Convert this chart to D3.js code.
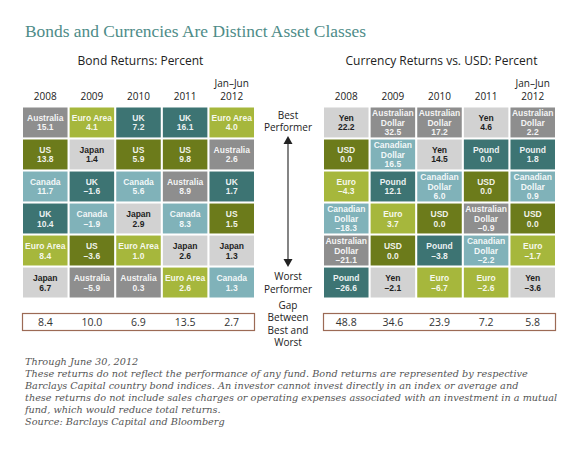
<!DOCTYPE html>
<html><head><meta charset="utf-8">
<script src="https://cdn.jsdelivr.net/npm/d3@7"></script>
<style>
html,body{margin:0;padding:0;background:#fff;}
svg{display:block;}
</style></head>
<body>
<svg id="c" width="580" height="455"></svg>
<script>
const years = ["2008","2009","2010","2011","Jan–Jun|2012"];

const bondNames = [
  ["Australia","US","Canada","UK","Euro Area","Japan"],
  ["Euro Area","Japan","UK","Canada","US","Australia"],
  ["UK","US","Canada","Japan","Euro Area","Australia"],
  ["UK","US","Australia","Canada","Japan","Euro Area"],
  ["Euro Area","Australia","UK","US","Japan","Canada"]
];
const bondValues = [
  [15.1,13.8,11.7,10.4,8.4,6.7],
  [4.1,1.4,-1.6,-1.9,-3.6,-5.9],
  [7.2,5.9,5.6,2.9,1.0,0.3],
  [16.1,9.8,8.9,8.3,2.6,2.6],
  [4.0,2.6,1.7,1.5,1.3,1.3]
];
const bondGap = [8.4,10.0,6.9,13.5,2.7];

const curNames = [
  ["Yen","USD","Euro","Canadian Dollar","Australian Dollar","Pound"],
  ["Australian Dollar","Canadian Dollar","Pound","Euro","USD","Yen"],
  ["Australian Dollar","Yen","Canadian Dollar","USD","Pound","Euro"],
  ["Yen","Pound","USD","Australian Dollar","Canadian Dollar","Euro"],
  ["Australian Dollar","Pound","Canadian Dollar","USD","Euro","Yen"]
];
const curValues = [
  [22.2,0.0,-4.3,-18.3,-21.1,-26.6],
  [32.5,16.5,12.1,3.7,0.0,-2.1],
  [17.2,14.5,6.0,0.0,-3.8,-6.7],
  [4.6,0.0,0.0,-0.9,-2.2,-2.6],
  [2.2,1.8,0.9,0.0,-1.7,-3.6]
];
const curGap = [48.8,34.6,23.9,7.2,5.8];

const groupKey = {
  "Australia":"aus","Australian Dollar":"aus",
  "Japan":"jpn","Yen":"jpn",
  "Euro Area":"eur","Euro":"eur",
  "US":"usa","USD":"usa",
  "UK":"gbr","Pound":"gbr",
  "Canada":"can","Canadian Dollar":"can"
};
const colorScale = d3.scaleOrdinal()
  .domain(["aus","jpn","eur","usa","gbr","can"])
  .range(["#8e8e8e","#d2d2d2","#a6b73c","#6c7b1b","#3d7473","#80b2b9"]);

const svg = d3.select("#c");
const fmt = v => (v < 0 ? "\u2013" + Math.abs(v).toFixed(1) : v.toFixed(1));

const SANS = "'Open Sans', 'Noto Sans', sans-serif";
const CELL = "'Liberation Sans', Arial, sans-serif";
const SERIF = "'DejaVu Serif', Georgia, serif";

// Title
svg.append("text").attr("x",25).attr("y",37)
  .attr("font-family","'Liberation Serif', Georgia, serif")
  .attr("font-size",17.4).attr("fill","#4e8c88")
  .text("Bonds and Currencies Are Distinct Asset Classes");

const rows = d3.range(6);
const yScale = d3.scaleBand().domain(rows).range([107.5,297.5]).paddingInner(0.065);

function panel(x0, x1, title, names, values, gaps){
  const xScale = d3.scaleBand().domain(d3.range(5)).range([x0,x1]).paddingInner(0.045);
  const g = svg.append("g");
  g.append("text").attr("x",(x0+x1)/2 + 2).attr("y",65)
    .attr("text-anchor","middle").attr("font-family",SANS)
    .attr("font-size",12).attr("fill","#222").text(title);
  // headers
  years.forEach((yr,i)=>{
    const parts = yr.split("|");
    const cx = xScale(i)+xScale.bandwidth()/2;
    parts.forEach((p,j)=>{
      g.append("text").attr("x",cx).attr("y",99.5 - (parts.length-1-j)*13)
        .attr("text-anchor","middle").attr("font-family",SANS)
        .attr("font-size",10).attr("fill","#222").text(p);
    });
  });
  // cells
  const cells = [];
  names.forEach((col,i)=>col.forEach((n,r)=>cells.push({i,r,n,v:values[i][r]})));
  const cg = g.selectAll("g.cell").data(cells).join("g").attr("class","cell");
  cg.append("rect")
    .attr("x",d=>xScale(d.i)).attr("y",d=>yScale(d.r))
    .attr("width",xScale.bandwidth()).attr("height",yScale.bandwidth())
    .attr("fill",d=>colorScale(groupKey[d.n]));
  cg.each(function(d){
    const labelLines = d.n.indexOf("Dollar")>=0 ? d.n.split(" ") : [d.n];
    const all = labelLines.concat([fmt(d.v)]);
    const lh = 9.6;
    const cy = yScale(d.r)+yScale.bandwidth()/2;
    const top = cy - (all.length-1)*lh/2;
    const dark = groupKey[d.n]==="jpn";
    all.forEach((t,k)=>{
      d3.select(this).append("text")
        .attr("x",xScale(d.i)+xScale.bandwidth()/2)
        .attr("y",top + k*lh + 3.2)
        .attr("text-anchor","middle").attr("font-family",CELL)
        .attr("font-size",8.5).attr("font-weight","bold")
        .attr("fill",dark?"#1e1e1e":"#ffffff")
        .attr("fill-opacity",dark?1:0.92)
        .text(t);
    });
  });
  // gap box
  g.append("rect").attr("x",x0-0.5).attr("y",313.5).attr("width",x1-x0+1).attr("height",17)
    .attr("fill","none").attr("stroke","#9c6a55").attr("stroke-width",1.2);
  gaps.forEach((v,i)=>{
    g.append("text").attr("x",xScale(i)+xScale.bandwidth()/2).attr("y",326)
      .attr("text-anchor","middle").attr("font-family",SANS)
      .attr("font-size",10.5).attr("fill","#333").text(v.toFixed(1));
  });
}

panel(23,254,"Bond Returns: Percent",bondNames,bondValues,bondGap);
panel(324,555,"Currency Returns vs. USD: Percent",curNames,curValues,curGap);

// middle labels
const mid = 288;
const midText = [["Best",118.5],["Performer",131],["Worst",280],["Performer",292.5],["Gap",308.5],["Between",321],["Best and",333.5],["Worst",346]];
midText.forEach(([t,y])=>{
  svg.append("text").attr("x",mid).attr("y",y).attr("text-anchor","middle")
    .attr("font-family",SANS).attr("font-size",10).attr("fill","#222").text(t);
});
// arrow
svg.append("line").attr("x1",mid).attr("x2",mid).attr("y1",140).attr("y2",262)
  .attr("stroke","#333").attr("stroke-width",1.2);
svg.append("path").attr("d",`M${mid},136 L${mid-4.5},144 L${mid+4.5},144 Z`).attr("fill","#222");
svg.append("path").attr("d",`M${mid},267 L${mid-4.5},259 L${mid+4.5},259 Z`).attr("fill","#222");

// footnotes
const notes = [
  "Through June 30, 2012",
  "These returns do not reflect the performance of any fund. Bond returns are represented by respective",
  "Barclays Capital country bond indices. An investor cannot invest directly in an index or average and",
  "these returns do not include sales charges or operating expenses associated with an investment in a mutual",
  "fund, which would reduce total returns.",
  "Source: Barclays Capital and Bloomberg"
];
notes.forEach((t,i)=>{
  svg.append("text").attr("x",25).attr("y",365+i*12)
    .attr("font-family",SERIF).attr("font-style","italic")
    .attr("font-size",9.7).attr("fill","#555").text(t);
});
</script>
</body></html>
